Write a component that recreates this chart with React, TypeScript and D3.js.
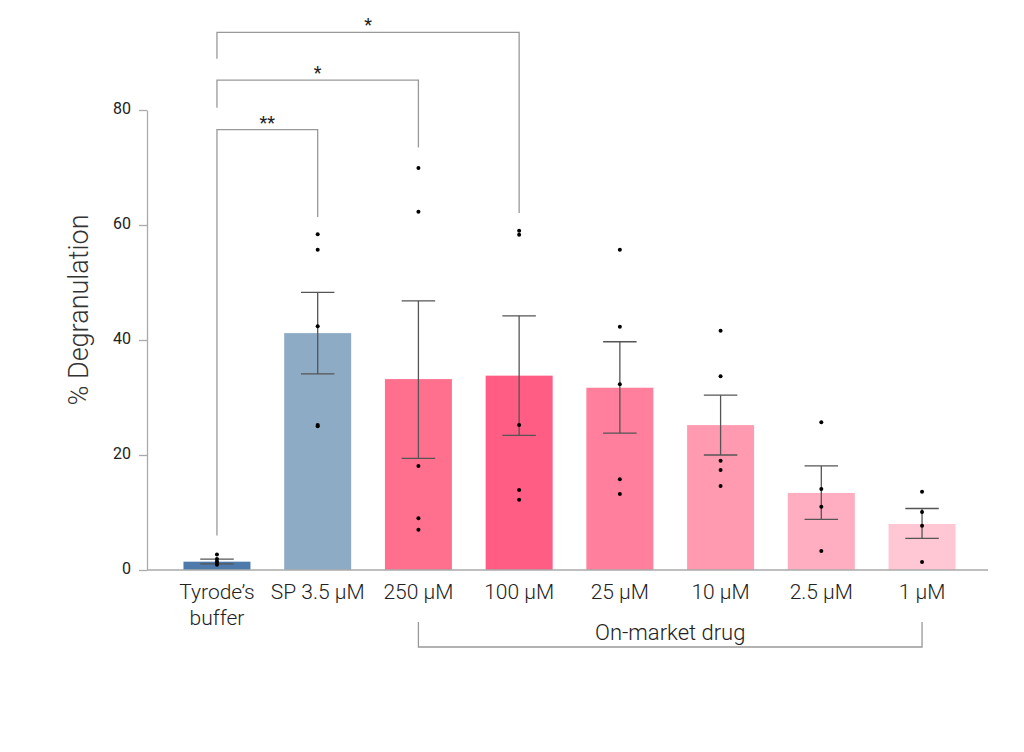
import { useEffect, useRef } from 'react'
import * as d3 from 'd3'

const categories = ['Tyrode’s\nbuffer', 'SP 3.5 µM', '250 µM', '100 µM', '25 µM', '10 µM', '2.5 µM', '1 µM']
const means = [1.45, 41.2, 33.2, 33.8, 31.7, 25.2, 13.4, 8.0]
const errLow = [1.05, 34.1, 19.4, 23.4, 23.8, 20.0, 8.8, 5.5]
const errHigh = [1.9, 48.3, 46.8, 44.2, 39.7, 30.4, 18.1, 10.7]
const points = [
  [2.7, 1.9, 1.5, 1.2, 0.9],
  [58.4, 55.7, 42.4, 25.2, 25.0],
  [69.9, 62.3, 18.1, 9.0, 7.0],
  [59.0, 58.3, 25.2, 13.9, 12.2],
  [55.7, 42.3, 32.3, 15.8, 13.2],
  [41.6, 33.7, 19.0, 17.4, 14.6],
  [25.7, 14.1, 11.0, 3.3],
  [13.6, 10.1, 7.7, 1.4],
]
const colors = ['#4d7aaa', '#8eabc6', '#ff6f8e', '#ff5d83', '#ff7f9c', '#ff9ab1', '#ffaec1', '#ffc6d4']
const yTicks = [0, 20, 40, 60, 80]
// comparisons against Tyrode's buffer: bracket top value and right leg end value
const sigs = [
  { from: 0, to: 1, label: '**', top: 76.6, end: 61.4 },
  { from: 0, to: 2, label: '*', top: 85.2, end: 73.5 },
  { from: 0, to: 3, label: '*', top: 93.5, end: 62.1 },
]
const leftLegEnd = [6.0, 80.4, 88.9]
const groupLabel = 'On-market drug'

export default function App() {
  const svgRef = useRef<SVGSVGElement>(null)
  const width = 1024
  const height = 752

  useEffect(() => {
    const svg = d3.select(svgRef.current)
    svg.selectAll('*').remove()

    const x = d3.scaleBand<number>().domain(d3.range(categories.length)).range([166.6, 972.4]).paddingInner(0.335).paddingOuter(0.1675)
    const y = d3.scaleLinear().domain([0, 80]).range([570, 110])
    const cx = (i: number) => (x(i) as number) + x.bandwidth() / 2
    const font = 'Roboto, sans-serif'

    // y axis
    const yAxis = svg.append('g').attr('transform', 'translate(147,0)')
      .call(d3.axisLeft(y).tickValues(yTicks).tickSize(8).tickPadding(8).tickSizeOuter(0))
    yAxis.select('.domain').attr('stroke', '#aaa').attr('stroke-width', 1.3)
    yAxis.selectAll('.tick line').attr('stroke', '#aaa').attr('stroke-width', 1.3)
    yAxis.selectAll('.tick text').attr('font-family', font).attr('font-size', 16).attr('fill', '#222')
      .attr('dy', '0.2em')

    svg.append('text')
      .attr('transform', `translate(88,${y(40) - 30}) rotate(-90)`)
      .attr('text-anchor', 'middle')
      .attr('font-family', font).attr('font-weight', 300).attr('font-size', 27).attr('fill', '#333')
      .text('% Degranulation')

    // bars
    svg.append('g').selectAll('rect').data(means).join('rect')
      .attr('x', (_, i) => x(i) as number)
      .attr('width', x.bandwidth())
      .attr('y', (d) => y(d))
      .attr('height', (d) => y(0) - y(d))
      .attr('fill', (_, i) => colors[i])

    // x axis line
    svg.append('line').attr('x1', 147).attr('x2', 988).attr('y1', y(0)).attr('y2', y(0))
      .attr('stroke', '#aaa').attr('stroke-width', 1.3)

    // error bars
    const eb = svg.append('g').attr('stroke', '#555').attr('stroke-width', 1.3)
    means.forEach((_, i) => {
      const c = cx(i)
      const cap = x.bandwidth() / 4
      eb.append('line').attr('x1', c).attr('x2', c).attr('y1', y(errLow[i])).attr('y2', y(errHigh[i]))
      eb.append('line').attr('x1', c - cap).attr('x2', c + cap).attr('y1', y(errLow[i])).attr('y2', y(errLow[i]))
      eb.append('line').attr('x1', c - cap).attr('x2', c + cap).attr('y1', y(errHigh[i])).attr('y2', y(errHigh[i]))
    })

    // points
    const pts = points.flatMap((arr, i) => arr.map((v) => ({ i, v })))
    svg.append('g').selectAll('circle').data(pts).join('circle')
      .attr('cx', (d) => cx(d.i))
      .attr('cy', (d) => y(d.v))
      .attr('r', 2)
      .attr('fill', '#000')

    // category labels
    categories.forEach((c, i) => {
      const t = svg.append('text')
        .attr('x', cx(i)).attr('y', 599)
        .attr('text-anchor', 'middle')
        .attr('font-family', font).attr('font-weight', 300).attr('font-size', 21).attr('fill', '#222')
      c.split('\n').forEach((line, k) => {
        t.append('tspan').attr('x', cx(i)).attr('dy', k === 0 ? 0 : 26).text(line)
      })
    })

    // significance brackets
    const br = svg.append('g').attr('fill', 'none').attr('stroke', '#999').attr('stroke-width', 1.3)
    sigs.forEach((s, k) => {
      const x0 = cx(s.from)
      const x1 = cx(s.to)
      const yt = y(s.top)
      br.append('path').attr('d', `M${x0},${y(leftLegEnd[k])}V${yt}H${x1}V${y(s.end)}`)
      svg.append('text')
        .attr('x', (x0 + x1) / 2).attr('y', yt - 1)
        .attr('text-anchor', 'middle')
        .attr('font-family', font).attr('font-size', 18).attr('fill', '#222')
        .text(s.label)
    })

    // group bracket
    const gx0 = cx(2)
    const gx1 = cx(7)
    br.append('path').attr('d', `M${gx0},622V647H${gx1}V622`)
    svg.append('text')
      .attr('x', (gx0 + gx1) / 2).attr('y', 640)
      .attr('text-anchor', 'middle')
      .attr('font-family', font).attr('font-weight', 300).attr('font-size', 22).attr('fill', '#222')
      .text(groupLabel)
  }, [])

  return (
    <svg
      ref={svgRef}
      width={width}
      height={height}
      viewBox={`0 0 ${width} ${height}`}
      style={{ position: 'absolute', left: 0, top: 0, background: '#fff' }}
    />
  )
}
